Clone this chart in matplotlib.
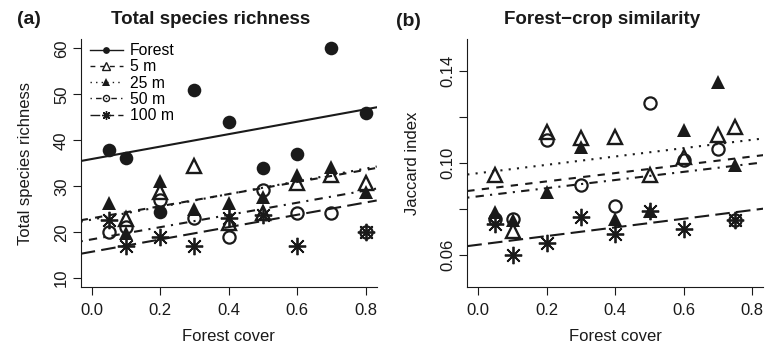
import matplotlib
matplotlib.use("Agg")
import matplotlib.pyplot as plt
from matplotlib.lines import Line2D

# ---- panel (a): total species richness ----
COVER_A = [0.05, 0.1, 0.2, 0.3, 0.4, 0.5, 0.6, 0.7, 0.8]
FOREST_A = [38.0, 36.1, 24.5, 50.9, 44.0, 34.0, 37.0, 60.0, 46.0]
M5_A = [None, 22.8, 28.8, 34.4, 22.1, 24.1, 30.7, 32.5, 30.7]
M25_A = [26.4, 19.8, 31.2, 25.0, 26.3, 27.7, 32.5, 34.3, 28.8]
M50_A = [20.1, 21.2, 27.0, 23.0, 18.9, 29.2, 24.1, 24.1, 20.1]
M100_A = [22.7, 16.9, 18.9, 16.9, 23.0, 23.8, 17.0, None, 20.1]

# ---- panel (b): forest-crop Jaccard similarity ----
COVER_B = [0.05, 0.1, 0.2, 0.3, 0.4, 0.5, 0.6, 0.7, 0.75]
M5_B = [0.0946, 0.0705, 0.1133, 0.1108, 0.1113, 0.0947, 0.1024, 0.1123, 0.1156]
M25_B = [0.0785, 0.0752, 0.0875, 0.1069, 0.0754, 0.0791, 0.1144, 0.1354, 0.0990]
M50_B = [0.0754, 0.0754, 0.1101, 0.0902, 0.0813, 0.1260, 0.1014, 0.1060, 0.0752]
M100_B = [0.0735, 0.0600, 0.0650, 0.0762, 0.0689, 0.0791, 0.0711, None, 0.0752]

SERIES = ["Forest", "5 m", "25 m", "50 m", "100 m"]

# regression lines as drawn (intercept, slope)
FIT_A = {"Forest": (35.93, 13.54), "5 m": (23.02, 13.19), "25 m": (22.74, 13.89),
         "50 m": (18.43, 13.31), "100 m": (15.73, 13.43)}
FIT_B = {"5 m": (0.0955, 0.0182), "25 m": (0.0883, 0.0181),
         "50 m": (0.0854, 0.0178), "100 m": (0.0643, 0.0189)}

INK = "#1a1a1a"
DASH = {"solid": "-", "dashed": (0, (3.5, 3.5)), "dotted": (0, (1, 3)),
        "dotdash": (0, (1, 3, 4, 3)), "longdash": (0, (7, 3))}
LTY_A = {"Forest": "solid", "5 m": "dashed", "25 m": "dotted",
         "50 m": "dotdash", "100 m": "longdash"}
# panel (b) line types as they appear in the figure
LTY_B = {"5 m": "dotted", "25 m": "dashed", "50 m": "dotdash", "100 m": "longdash"}

MARK = {
    "Forest": dict(marker="o", ms=9.8, mfc=INK, mew=0),
    "5 m": dict(marker="^", ms=10.5, mfc="none", mew=1.7),
    "25 m": dict(marker="^", ms=10.5, mfc=INK, mew=0),
    "50 m": dict(marker="o", ms=8.8, mfc="none", mew=1.6),
    "100 m": dict(marker=(8, 2, 0), ms=12.5, mfc=INK, mew=1.3),
}

plt.rcParams["font.family"] = ["Liberation Sans", "DejaVu Sans"]


def scatter(ax, x, ys):
    for name, y in ys.items():
        pts = [(a, b) for a, b in zip(x, y) if b is not None]
        ax.plot([p[0] for p in pts], [p[1] for p in pts], ls="none", color=INK,
                mec=INK, zorder=3, clip_on=False, **MARK[name])


def fits(ax, fit, lty):
    for name, (b, m) in fit.items():
        ax.axline((0, b), slope=m, color=INK, lw=1.5, ls=DASH[lty[name]], zorder=2)


def style(ax, yticks, ylabels):
    ax.set_xlim(-0.032, 0.832)
    ax.set_xticks([0.0, 0.2, 0.4, 0.6, 0.8])
    ax.set_xticklabels(["0.0", "0.2", "0.4", "0.6", "0.8"])
    ax.set_yticks(yticks)
    ax.set_yticklabels(ylabels)
    for lab in ax.get_yticklabels():
        lab.set_rotation(90)
        lab.set_va("center")
    ax.spines[["top", "right"]].set_visible(False)
    for s in ("left", "bottom"):
        ax.spines[s].set_linewidth(0.8)
        ax.spines[s].set_color(INK)
    ax.tick_params(length=5.5, width=0.8, color=INK, labelsize=12, labelcolor=INK)
    ax.tick_params(axis="x", pad=6)
    ax.tick_params(axis="y", pad=3)
    ax.set_xlabel("Forest cover", fontsize=12, color=INK, labelpad=8)


fig = plt.figure(figsize=(7.69, 3.48), dpi=100)
axA = fig.add_axes([80.7 / 769, 1 - 287.3 / 348, 296 / 769, 248 / 348])
axB = fig.add_axes([467.3 / 769, 1 - 286.7 / 348, 296 / 769, 247.7 / 348])

# (a)
fits(axA, FIT_A, LTY_A)
scatter(axA, COVER_A, {"Forest": FOREST_A, "5 m": M5_A, "25 m": M25_A,
                       "50 m": M50_A, "100 m": M100_A})
axA.set_ylim(8, 62)
style(axA, [10, 20, 30, 40, 50, 60], ["10", "20", "30", "40", "50", "60"])
axA.set_ylabel("Total species richness", fontsize=12, color=INK, labelpad=15)

handles = []
for name in SERIES:
    mk = dict(MARK[name])
    mk["ms"] = mk["ms"] * 0.5
    mk["mew"] = 1.0 if mk["mew"] else 0
    handles.append(Line2D([], [], color=INK, lw=1.0, ls=DASH[LTY_A[name]], label=name,
                          mec=INK, **mk))
axA.legend(handles=handles, loc="upper left", bbox_to_anchor=(9.3 / 296, 0.985),
           frameon=False, fontsize=11.3, handlelength=2.1, handletextpad=0.45,
           labelspacing=0.08, borderpad=0, borderaxespad=0)

# (b)
fits(axB, FIT_B, LTY_B)
scatter(axB, COVER_B, {"5 m": M5_B, "25 m": M25_B, "50 m": M50_B, "100 m": M100_B})
axB.set_ylim(0.046, 0.154)
style(axB, [0.06, 0.08, 0.10, 0.12, 0.14], ["0.06", "", "0.10", "", "0.14"])
axB.set_ylabel("Jaccard index", fontsize=12, color=INK, labelpad=15)

fig.text(29 / 769, 1 - 19 / 348, "(a)", fontsize=14, fontweight="bold", ha="center",
         va="center", color=INK)
fig.text(408.5 / 769, 1 - 21 / 348, "(b)", fontsize=14, fontweight="bold", ha="center",
         va="center", color=INK)
fig.text(211 / 769, 1 - 19 / 348, "Total species richness", fontsize=13.5,
         fontweight="bold", ha="center", va="center", color=INK)
fig.text(602.5 / 769, 1 - 19 / 348, "Forest\u2212crop similarity", fontsize=13.5,
         fontweight="bold", ha="center", va="center", color=INK)

fig.savefig("out.png", dpi=100)
